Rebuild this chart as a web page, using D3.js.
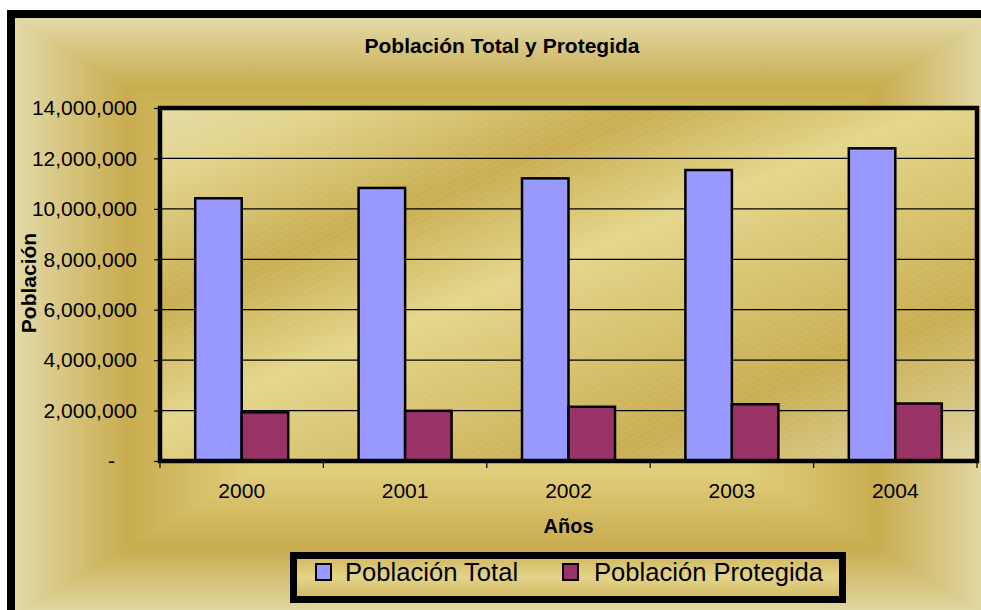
<!DOCTYPE html>
<html>
<head>
<meta charset="utf-8">
<script src="https://cdn.jsdelivr.net/npm/d3@7"></script>
<style>
  html, body { margin: 0; padding: 0; background: #ffffff; }
  svg { display: block; font-family: "Liberation Sans", Arial, sans-serif; }
</style>
</head>
<body>
<svg id="chart" width="981" height="610"></svg>
<script>
// ---- data ----
const years = ["2000", "2001", "2002", "2003", "2004"];
const seriesNames = ["Población Total", "Población Protegida"];
const poblacionTotal = [10420000, 10830000, 11210000, 11540000, 12400000];
const poblacionProtegida = [1930000, 1990000, 2150000, 2250000, 2280000];
const yTicks = [0, 2000000, 4000000, 6000000, 8000000, 10000000, 12000000, 14000000];
const seriesColors = ["#9999ff", "#993366"];

const title = "Población Total y Protegida";
const xTitle = "Años";
const yTitle = "Población";

// ---- layout ----
const W = 981, H = 610;
const plot = { left: 160, top: 108, right: 977, bottom: 461 };

const svg = d3.select("#chart");
const defs = svg.append("defs");

function addLinear(id, x1, y1, x2, y2, stops) {
  const g = defs.append("linearGradient").attr("id", id)
    .attr("gradientUnits", "userSpaceOnUse")
    .attr("x1", x1).attr("y1", y1).attr("x2", x2).attr("y2", y2);
  stops.forEach(s => g.append("stop").attr("offset", s[0]).attr("stop-color", s[1]));
}

// ---- chart background: rectangular "from center" gradient ----
const bg = { x0: 15, y0: 18, x1: 988, y1: 616 };
const cx = (bg.x0 + bg.x1) / 2, cy = (bg.y0 + bg.y1) / 2;
const bgStops = [[0, "#e3daa8"], [0.23, "#c8ac4f"], [0.5, "#e2d07e"], [1, "#e8d98f"]];
addLinear("gTop", cx, bg.y0, cx, cy, bgStops);
addLinear("gBot", cx, bg.y1, cx, cy, bgStops);
addLinear("gLeft", bg.x0, cy, cx, cy, bgStops);
addLinear("gRight", bg.x1, cy, cx, cy, bgStops);

// outer black frame
svg.append("rect").attr("x", 11).attr("y", 14)
  .attr("width", 985).attr("height", 610)
  .attr("fill", "#d6c170").attr("stroke", "#000").attr("stroke-width", 8);

const tri = [
  ["gTop", [[bg.x0, bg.y0], [bg.x1, bg.y0], [cx, cy]]],
  ["gBot", [[bg.x0, bg.y1], [bg.x1, bg.y1], [cx, cy]]],
  ["gLeft", [[bg.x0, bg.y0], [bg.x0, bg.y1], [cx, cy]]],
  ["gRight", [[bg.x1, bg.y0], [bg.x1, bg.y1], [cx, cy]]]
];
tri.forEach(t => {
  svg.append("polygon")
    .attr("points", t[1].map(p => p.join(",")).join(" "))
    .attr("fill", `url(#${t[0]})`)
    .attr("stroke", `url(#${t[0]})`).attr("stroke-width", 0.6);
});
// redraw frame stroke on top
svg.append("rect").attr("x", 11).attr("y", 14)
  .attr("width", 985).attr("height", 610)
  .attr("fill", "none").attr("stroke", "#000").attr("stroke-width", 8);

// ---- plot area fill: diagonal banded gradient + fine texture ----
addLinear("gPlot", 160, 108, 399, 697, [
  [0, "#e4dba6"], [0.1, "#e2d48c"], [0.29, "#c9ae52"], [0.46, "#e4d68b"],
  [0.77, "#c9ae52"], [1, "#e0d6a2"]
]);
const pat = defs.append("pattern").attr("id", "tex")
  .attr("patternUnits", "userSpaceOnUse").attr("width", 5).attr("height", 5)
  .attr("patternTransform", "rotate(-30)");
pat.append("line").attr("x1", 0).attr("y1", 0).attr("x2", 5).attr("y2", 0)
  .attr("stroke", "#ffffff").attr("stroke-opacity", 0.12).attr("stroke-width", 1.2);

svg.append("rect").attr("x", plot.left).attr("y", plot.top)
  .attr("width", plot.right - plot.left).attr("height", plot.bottom - plot.top)
  .attr("fill", "url(#gPlot)");
svg.append("rect").attr("x", plot.left).attr("y", plot.top)
  .attr("width", plot.right - plot.left).attr("height", plot.bottom - plot.top)
  .attr("fill", "url(#tex)");

// ---- scales ----
const x0 = d3.scaleBand().domain(years).range([plot.left, plot.right]).paddingInner(0).paddingOuter(0);
const x1 = d3.scaleBand().domain(seriesNames).range([0, x0.bandwidth()]).paddingInner(0).paddingOuter(0.757);
const y = d3.scaleLinear().domain([0, 14000000]).range([plot.bottom, plot.top]);

// gridlines
svg.append("g").selectAll("line").data(yTicks.filter(d => d > 0 && d < 14000000)).join("line")
  .attr("x1", plot.left).attr("x2", plot.right)
  .attr("y1", d => y(d)).attr("y2", d => y(d))
  .attr("stroke", "#000").attr("stroke-width", 1.2);

// bars
const data = years.map((yr, i) => ({ year: yr, values: [poblacionTotal[i], poblacionProtegida[i]] }));
const groups = svg.append("g").selectAll("g").data(data).join("g")
  .attr("transform", d => `translate(${x0(d.year)},0)`);
groups.selectAll("rect").data(d => d.values.map((v, j) => ({ v, j }))).join("rect")
  .attr("x", d => x1(seriesNames[d.j]))
  .attr("width", x1.bandwidth())
  .attr("y", d => y(d.v))
  .attr("height", d => y(0) - y(d.v))
  .attr("fill", d => seriesColors[d.j])
  .attr("stroke", "#000").attr("stroke-width", 2.5);

// plot border
svg.append("rect").attr("x", plot.left).attr("y", plot.top)
  .attr("width", plot.right - plot.left).attr("height", plot.bottom - plot.top)
  .attr("fill", "none").attr("stroke", "#000").attr("stroke-width", 4.5);

// y axis
const yAxis = d3.axisLeft(y).tickValues(yTicks)
  .tickSize(6).tickPadding(17)
  .tickFormat(d => d === 0 ? "-" : d3.format(",")(d));
const gy = svg.append("g").attr("transform", `translate(${plot.left},0)`).call(yAxis);
gy.select(".domain").remove();
gy.selectAll(".tick line").attr("stroke", "#000").attr("stroke-width", 1.2);
gy.selectAll(".tick text").attr("font-size", 21).attr("fill", "#000")
  .attr("dx", d => d === 0 ? -22 : 0);

// x axis: boundary ticks
const bounds = years.map(d => x0(d)).concat([x0.range()[1]]);
svg.append("g").selectAll("line").data(bounds).join("line")
  .attr("x1", d => d).attr("x2", d => d)
  .attr("y1", plot.bottom).attr("y2", plot.bottom + 7)
  .attr("stroke", "#000").attr("stroke-width", 1.2);
const xAxis = d3.axisBottom(x0).tickSizeInner(0).tickSizeOuter(0).tickPadding(22);
const gx = svg.append("g").attr("transform", `translate(0,${plot.bottom})`).call(xAxis);
gx.select(".domain").remove();
gx.selectAll(".tick text").attr("font-size", 21).attr("fill", "#000");

// titles
svg.append("text").attr("x", 502).attr("y", 53).attr("text-anchor", "middle")
  .attr("font-size", 21).attr("font-weight", "bold").text(title);
svg.append("text").attr("x", (plot.left + plot.right) / 2).attr("y", 533).attr("text-anchor", "middle")
  .attr("font-size", 20).attr("font-weight", "bold").text(xTitle);
svg.append("text").attr("transform", `translate(36,283) rotate(-90)`).attr("text-anchor", "middle")
  .attr("font-size", 21).attr("font-weight", "bold").text(yTitle);

// legend
addLinear("gLeg", 0, 552, 0, 603, [[0, "#ccb256"], [0.5, "#e4d48a"], [1, "#ccb256"]]);
svg.append("rect").attr("x", 293.5).attr("y", 555.5).attr("width", 549).attr("height", 44)
  .attr("fill", "url(#gLeg)").attr("stroke", "#000").attr("stroke-width", 7);
const legItems = [{ sx: 316, tx: 345 }, { sx: 563, tx: 594 }];
seriesNames.forEach((name, i) => {
  svg.append("rect").attr("x", legItems[i].sx).attr("y", 564).attr("width", 15).attr("height", 16)
    .attr("fill", seriesColors[i]).attr("stroke", "#000").attr("stroke-width", 2);
  svg.append("text").attr("x", legItems[i].tx).attr("y", 581)
    .attr("font-size", 25.6).attr("fill", "#000").text(name);
});
</script>
</body>
</html>
